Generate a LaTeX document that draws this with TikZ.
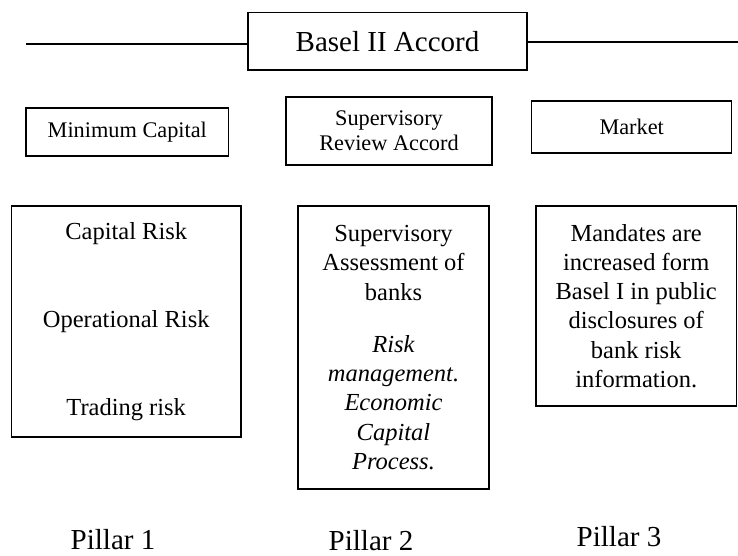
\documentclass[tikz,border=0pt]{standalone}
\usepackage{fontspec}
\setmainfont{Liberation Serif}
\tikzset{
  frame/.style={draw,line width=1.5pt,align=center,inner sep=0pt},
  title/.style={frame,font=\fontsize{29}{34}\selectfont},
  head/.style={frame,font=\fontsize{22.3}{25}\selectfont},
  body/.style={frame,font=\fontsize{24.5}{29.3}\selectfont},
  pillar/.style={anchor=base,font=\fontsize{29}{34}\selectfont}
}
\begin{document}
\begin{tikzpicture}[x=1pt,y=-1pt]
\useasboundingbox (0,0) rectangle (738,555);
% accord and its rule
\node[title,minimum width=279pt,minimum height=57.5pt](accord) at (387.5,41.3){Basel II Accord};
\coordinate (lend) at (26,44);
\coordinate (rend) at (738,42);
\draw[line width=1.5pt](lend)--(accord.west |- lend);
\draw[line width=1.5pt](accord.east |- rend)--(rend);
% pillar heads
\node[head,minimum width=202.7pt,minimum height=48pt](mincap) at (127.3,132){Minimum Capital};
\node[head,minimum width=206pt,minimum height=68.3pt](review) at (389,130.9){Supervisory\\Review Accord};
\node[head,minimum width=200pt,minimum height=52.3pt](market) at (631.7,126.9){Market};
% pillar contents
\node[body,minimum width=229.5pt,minimum height=231pt](risks) at (126.2,321.5){Capital Risk\\[58.7pt]Operational Risk\\[58.7pt]Trading risk};
\node[body,minimum width=191pt,minimum height=283pt](assess) at (393.5,347.5){Supervisory\\Assessment of\\banks\\[22.7pt]\itshape Risk\\\itshape management.\\\itshape Economic\\\itshape Capital\\\itshape Process.};
\node[body,minimum width=200.5pt,minimum height=200pt](disclose) at (636.2,306){Mandates are\\increased form\\Basel I in public\\disclosures of\\bank risk\\information.};
% labels
\node[pillar](p1) at (113,549.5){Pillar 1};
\node[pillar](p2) at (371,550){Pillar 2};
\node[pillar](p3) at (619,546){Pillar 3};
\end{tikzpicture}
\end{document}
